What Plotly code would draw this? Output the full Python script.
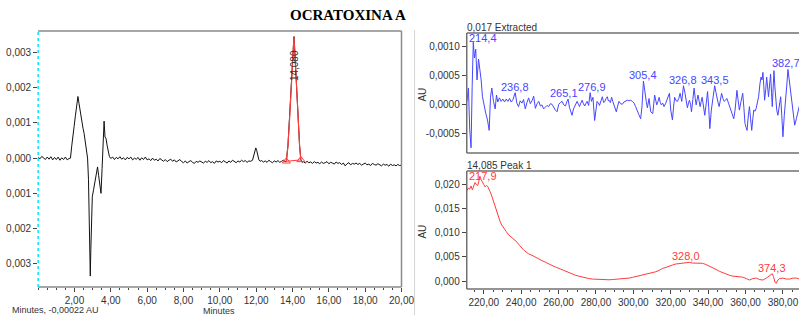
import plotly.graph_objects as go

# ---------------- DATA ----------------
# Chromatogram (minutes, mAU)
chrom_time = [
    0.0, 0.1, 0.2, 0.3, 0.4, 0.5, 0.6, 0.7, 0.8, 0.9, 1.0, 1.1, 1.2, 1.3, 1.4, 1.5, 1.6, 1.7,
    1.78, 1.85, 1.92, 1.98, 2.05, 2.12, 2.19, 2.25, 2.32, 2.40, 2.47, 2.53, 2.60, 2.66, 2.72,
    2.77, 2.81, 2.84, 2.87, 2.90, 2.93, 2.98, 3.05, 3.12, 3.20, 3.27, 3.33, 3.40, 3.46, 3.52,
    3.58, 3.63, 3.68, 3.74, 3.80, 3.86, 3.92, 3.98,
    4.0, 4.1, 4.2, 4.3, 4.4, 4.5, 4.6, 4.7, 4.8, 4.9,
    5.0, 5.1, 5.2, 5.3, 5.4, 5.5, 5.6, 5.7, 5.8, 5.9,
    6.0, 6.1, 6.2, 6.3, 6.4, 6.5, 6.6, 6.7, 6.8, 6.9,
    7.0, 7.1, 7.2, 7.3, 7.4, 7.5, 7.6, 7.7, 7.8, 7.9,
    8.0, 8.1, 8.2, 8.3, 8.4, 8.5, 8.6, 8.7, 8.8, 8.9,
    9.0, 9.1, 9.2, 9.3, 9.4, 9.5, 9.6, 9.7, 9.8, 9.9,
    10.0, 10.1, 10.2, 10.3, 10.4, 10.5, 10.6, 10.7, 10.8, 10.9,
    11.0, 11.1, 11.2, 11.3, 11.4, 11.5, 11.6, 11.7,
    11.8, 11.87, 11.93, 11.98, 12.03, 12.09, 12.15, 12.22,
    12.3, 12.4, 12.5, 12.6, 12.7, 12.8, 12.9, 13.0, 13.1, 13.2, 13.3, 13.4, 13.5, 13.6,
    13.66, 13.75, 13.84, 13.92, 13.99, 14.04, 14.08, 14.12, 14.18, 14.25, 14.32, 14.39, 14.46, 14.53,
    14.6, 14.7, 14.8, 14.9, 15.0, 15.1, 15.2, 15.3, 15.4, 15.5,
    15.6, 15.7, 15.8, 15.9, 16.0, 16.1, 16.2, 16.3, 16.4, 16.5,
    16.6, 16.7, 16.8, 16.9, 17.0, 17.1, 17.2, 17.3, 17.4, 17.5,
    17.6, 17.7, 17.8, 17.9, 18.0, 18.1, 18.2, 18.3, 18.4, 18.5,
    18.6, 18.7, 18.8, 18.9, 19.0, 19.1, 19.2, 19.3, 19.4, 19.5,
    19.6, 19.7, 19.8, 19.9, 20.0,
]
chrom_mau = [
    0.03, -0.02, 0.05, 0.01, -0.04, 0.03, -0.03, 0.04, -0.05, 0.02, -0.04, 0.03, -0.06, 0.01, -0.04, 0.03, -0.05, -0.01,
    0.0, 0.35, 0.75, 0.9, 1.2, 1.5, 1.75, 1.55, 1.3, 1.1, 0.85, 0.7, 0.45, 0.15, 0.0,
    -0.6, -1.4, -2.2, -3.35, -2.6, -1.6, -1.1, -0.9, -0.65, -0.45, -0.25, -0.5, -0.85, -1.0, -0.3,
    0.4, 1.05, 0.6, 0.55, 0.35, 0.15, 0.05, 0.0,
    -0.01, 0.03, -0.04, 0.02, -0.02, 0.04, -0.03, 0.01, -0.05, 0.02,
    -0.02, 0.03, -0.05, 0.00, -0.03, 0.02, -0.06, 0.01, -0.04, 0.03,
    -0.05, -0.02, -0.07, 0.00, -0.06, -0.03, -0.08, -0.01, -0.05, -0.09,
    -0.04, -0.10, -0.06, -0.03, -0.09, -0.05, -0.11, -0.07, -0.04, -0.10,
    -0.13, -0.08, -0.14, -0.10, -0.07, -0.12, -0.15, -0.09, -0.12, -0.08,
    -0.11, -0.14, -0.09, -0.12, -0.07, -0.13, -0.10, -0.15, -0.08, -0.11,
    -0.09, -0.13, -0.07, -0.11, -0.14, -0.08, -0.12, -0.06, -0.10, -0.13,
    -0.08, -0.11, -0.06, -0.10, -0.07, -0.12, -0.08, -0.09,
    -0.06, 0.08, 0.22, 0.29, 0.22, 0.06, -0.05, -0.09,
    -0.07, -0.11, -0.08, -0.12, -0.06, -0.10, -0.13, -0.08, -0.11, -0.07, -0.12, -0.09, -0.06, -0.10,
    -0.09, 0.35, 1.1, 1.9, 2.6, 3.1, 3.45, 3.1, 2.4, 1.6, 0.9, 0.35, -0.05, -0.12,
    -0.10, -0.14, -0.09, -0.13, -0.11, -0.15, -0.10, -0.14, -0.12, -0.16,
    -0.11, -0.15, -0.13, -0.10, -0.16, -0.12, -0.14, -0.17, -0.11, -0.15,
    -0.13, -0.18, -0.14, -0.22, -0.16, -0.13, -0.19, -0.15, -0.17, -0.14,
    -0.18, -0.15, -0.20, -0.16, -0.14, -0.19, -0.17, -0.21, -0.15, -0.18,
    -0.20, -0.16, -0.19, -0.22, -0.17, -0.20, -0.18, -0.23, -0.17, -0.21,
    -0.19, -0.22, -0.18, -0.21, -0.20,
]
peak_start_min = 13.66
peak_end_min = 14.46
peak_retention_label = "14,080"

chrom_xticks = [2, 4, 6, 8, 10, 12, 14, 16, 18, 20]
chrom_xticktext = ["2,00", "4,00", "6,00", "8,00", "10,00", "12,00", "14,00", "16,00", "18,00", "20,00"]
chrom_yticks = [0.003, 0.002, 0.001, 0.0, -0.001, -0.002, -0.003]
chrom_yticktext = ["0,003", "0,002", "0,001", "0,000", "0,001", "0,002", "0,003"]

# Extracted spectrum (nm, mAU)
ext_nm = [
    211.0, 211.8, 212.5, 213.2, 213.8, 214.4, 215.0, 215.7, 216.4, 217.2, 217.9, 218.6, 219.3, 220.2,
    221.1, 222.0, 222.9, 223.6, 224.3, 225.2, 226.1, 226.8, 227.5, 228.4, 229.3, 230.2, 231.1, 232.0,
    232.9, 233.8, 234.7, 235.6, 236.8, 237.7, 238.6, 239.5, 240.4, 241.3, 242.2, 243.1, 244.0, 244.9,
    245.8, 246.7, 247.6, 248.5, 249.4, 250.3, 251.1, 252.0, 252.9, 253.8, 254.7, 255.6, 256.5, 257.4,
    258.3, 259.2, 260.1, 261.0, 261.9, 262.8, 263.7, 264.4, 265.1, 265.8, 266.4, 267.2, 268.0, 268.7,
    269.4, 269.9, 270.6, 271.2, 271.9, 272.6, 273.3, 274.0, 274.7, 275.3, 276.1, 276.9, 277.6, 278.4,
    279.3, 280.0, 280.6, 281.3, 281.9, 282.7, 283.4, 284.1, 284.8, 285.4, 286.1, 286.6, 287.0, 287.7,
    288.4, 289.0, 289.6, 290.3, 290.9, 291.6, 292.3, 293.2, 294.1, 295.0, 295.9, 296.8, 297.7, 298.6,
    299.5, 300.4, 301.2, 302.1, 303.0, 303.9, 304.6, 305.4, 306.2, 306.9, 307.5, 308.4, 309.3, 310.4,
    311.4, 312.5, 313.2, 313.8, 314.4, 315.0, 315.7, 316.4, 317.2, 317.9, 318.6, 319.3, 320.0, 320.9,
    321.5, 322.1, 322.9, 323.6, 324.3, 325.0, 325.9, 326.8, 327.7, 328.3, 328.9, 329.5, 330.0, 330.6,
    331.1, 331.8, 332.5, 333.1, 333.6, 334.1, 334.6, 335.2, 335.7, 336.3, 336.8, 337.5, 338.2, 339.0,
    339.7, 340.3, 340.9, 341.7, 342.4, 343.0, 343.5, 344.2, 344.7, 345.3, 345.9, 346.6, 347.2, 347.9,
    348.6, 349.3, 350.0, 350.9, 351.8, 352.8, 353.7, 354.4, 355.4, 356.0, 356.7, 357.6, 358.5, 359.1,
    359.7, 360.3, 360.8, 361.5, 362.1, 362.7, 363.3, 363.9, 364.4, 365.1, 365.7, 366.4, 367.0, 367.7,
    368.3, 368.8, 369.3, 369.8, 370.2, 370.8, 371.3, 371.8, 372.3, 372.9, 373.4, 373.9, 374.3, 374.8,
    375.2, 375.7, 376.1, 376.7, 377.3, 378.0, 378.8, 379.4, 380.0, 380.7, 381.3, 382.0, 382.7, 383.3,
    383.9, 384.9, 385.6, 386.3, 387.2, 388.1, 389.5, 390.2,
]
ext_mau = [
    0.05, 0.28, -0.44, -0.75, 0.30, 1.07, 0.80, 0.95, 0.42, 0.78, 0.60, 0.42, 0.13, -0.04,
    -0.16, -0.27, -0.45, 0.12, 0.28, 0.05, -0.08, 0.16, 0.04, 0.11, 0.05, 0.09, 0.04, 0.09,
    0.05, 0.10, 0.04, 0.08, 0.20, 0.02, -0.04, 0.06, 0.02, 0.08, -0.08, 0.03, 0.11, 0.01,
    0.06, 0.14, -0.07, 0.01, 0.05, -0.03, -0.01, -0.08, -0.05, -0.02, -0.04, 0.01, 0.00, -0.06,
    -0.10, -0.13, 0.00, 0.03, 0.05, -0.01, -0.03, 0.04, 0.09, -0.05, -0.12, -0.19, -0.08, -0.02,
    0.03, 0.05, 0.00, -0.04, 0.02, 0.07, 0.01, -0.03, 0.02, 0.05, -0.02, 0.20, 0.05, 0.12,
    -0.28, -0.05, 0.05, 0.02, -0.02, 0.06, 0.13, 0.03, 0.05, 0.10, 0.13, 0.06, 0.07, 0.03,
    0.12, 0.05, -0.02, -0.08, -0.13, -0.03, 0.05, 0.01, 0.00, 0.04, 0.06, 0.07, 0.06, 0.07,
    0.05, 0.02, -0.04, -0.10, -0.18, -0.25, -0.05, 0.40, 0.15, 0.05, -0.06, 0.10, -0.13, -0.16,
    0.16, -0.01, 0.05, 0.12, 0.03, -0.01, 0.02, -0.04, 0.01, 0.07, 0.12, 0.19, -0.10, -0.27,
    -0.05, 0.12, 0.06, 0.05, 0.10, 0.19, 0.05, 0.32, 0.18, 0.02, -0.06, 0.02, 0.07, 0.00,
    -0.13, 0.08, 0.28, 0.10, -0.01, 0.08, 0.16, 0.05, -0.04, 0.05, 0.12, -0.03, -0.19, 0.02,
    0.22, -0.05, -0.42, -0.10, 0.07, 0.18, 0.32, 0.20, 0.10, 0.03, -0.04, 0.08, 0.19, 0.10,
    0.05, 0.07, 0.10, 0.02, -0.06, -0.15, -0.25, -0.10, 0.24, 0.08, -0.10, 0.05, 0.19, -0.05,
    -0.33, -0.40, -0.45, -0.20, -0.04, -0.25, -0.45, -0.25, -0.10, -0.12, -0.07, 0.04, 0.13, 0.35,
    0.47, 0.42, 0.55, 0.30, 0.07, 0.25, 0.47, 0.30, 0.13, 0.35, 0.52, 0.20, -0.04, 0.30,
    0.58, 0.30, 0.05, -0.10, -0.19, -0.02, 0.13, -0.20, -0.56, -0.20, 0.13, 0.30, 0.60, 0.45,
    0.20, -0.04, -0.20, -0.36, -0.25, -0.10, 0.07, 0.30,
]
ext_peak_labels = [214.4, 236.8, 265.1, 276.9, 305.4, 326.8, 343.5, 382.7]
ext_yticks = [0.0010, 0.0005, 0.0, -0.0005]
ext_yticktext = ["0,0010", "0,0005", "0,0000", "-0,0005"]

# Peak 1 spectrum (nm, mAU)
pk_nm = [
    211.0, 211.7, 212.4, 213.2, 213.9, 214.6, 215.3, 216.0, 216.8, 217.4, 217.9, 218.6, 219.3, 220.0,
    220.7, 221.4, 222.1, 222.8, 223.4, 224.3, 225.2, 226.1, 227.0, 227.9, 228.8, 229.7, 230.6, 232.0,
    233.3, 234.6, 236.0, 237.3, 238.6, 240.0, 241.3, 242.6, 244.0, 245.8, 247.6, 249.4, 251.1, 252.9,
    254.7, 256.5, 258.3, 260.1, 261.9, 263.7, 265.5, 267.3, 269.0, 270.8, 272.6, 274.4, 276.2, 278.0,
    279.8, 281.6, 283.4, 285.2, 287.0, 288.8, 290.5, 292.3, 294.1, 295.9, 297.7, 299.5, 301.2, 303.0,
    304.8, 306.6, 308.4, 310.2, 312.0, 313.8, 315.6, 317.4, 319.2, 321.0, 322.7, 324.5, 326.3, 328.0,
    329.9, 331.6, 333.4, 335.2, 337.0, 338.8, 340.6, 342.4, 344.2, 346.0, 347.8, 349.5, 351.3, 353.1,
    354.9, 356.7, 358.5, 360.3, 362.1, 363.9, 365.7, 367.5, 369.3, 371.1, 372.9, 374.3, 375.0, 375.7,
    376.4, 377.3, 378.2, 380.0, 381.8, 383.6, 385.4, 387.2, 389.0, 390.2,
]
pk_mau = [
    18.6, 19.2, 18.9, 19.6, 18.8, 19.8, 20.3, 19.9, 19.7, 20.6, 21.6, 20.9, 20.5, 19.9,
    19.4, 19.7, 19.5, 19.0, 18.4, 17.5, 16.4, 15.4, 14.3, 13.2, 12.2, 11.5, 10.9, 10.2,
    9.5, 9.1, 8.7, 8.2, 7.6, 6.9, 6.4, 6.0, 5.6, 5.3, 4.9, 4.6, 4.2, 3.9,
    3.5, 3.2, 2.9, 2.6, 2.4, 2.1, 1.8, 1.5, 1.2, 1.0, 0.8, 0.6, 0.5, 0.4,
    0.35, 0.3, 0.3, 0.2, 0.25, 0.3, 0.35, 0.3, 0.35, 0.5, 0.6, 0.75, 0.9, 1.0,
    1.2, 1.3, 1.6, 1.7, 1.9, 2.2, 2.6, 2.8, 3.1, 3.3, 3.5, 3.6, 3.8, 3.9,
    3.85, 3.7, 3.7, 3.6, 3.65, 3.4, 3.1, 2.8, 2.4, 2.0, 1.7, 1.4, 1.2, 1.0,
    0.9, 0.85, 0.8, 0.5, 0.2, 0.5, 0.6, 0.3, 0.2, 0.6, 1.2, 1.5, 0.9, -0.2,
    -0.5, 0.2, 0.5, 0.6, 0.4, 0.4, 0.6, 0.6, 0.4, 0.4,
]
pk_peak_labels = [217.9, 328.0, 374.3]
pk_xticks = [220, 240, 260, 280, 300, 320, 340, 360, 380]
pk_xticktext = ["220,00", "240,00", "260,00", "280,00", "300,00", "320,00", "340,00", "360,00", "380,00"]
pk_yticks = [0.020, 0.015, 0.010, 0.005, 0.0]
pk_yticktext = ["0,020", "0,015", "0,010", "0,005", "0,000"]

# ---------------- FIGURE ----------------
W, H = 799, 315          # reference picture size (layout designed in these pixels)
FIG_W = 815              # rendered width (page is scaled to the 799 px window)
def px(x):
    return x / W
def py(y):
    return (H - y) / H

FONT = "Arial, Liberation Sans, sans-serif"
TICKC = "#333333"
BLUE = "#4646ff"
RED = "#ff3c3c"

chrom_au = [v / 1000 for v in chrom_mau]
ext_au = [v / 1000 for v in ext_mau]
pk_au = [v / 1000 for v in pk_mau]

fig = go.Figure()

fig.add_trace(go.Scatter(x=chrom_time, y=chrom_au, mode="lines",
                         line=dict(color="#111111", width=1), xaxis="x", yaxis="y",
                         hoverinfo="skip"))
pk_t = [t for t in chrom_time if peak_start_min <= t <= peak_end_min]
pk_v = [v for t, v in zip(chrom_time, chrom_au) if peak_start_min <= t <= peak_end_min]
fig.add_trace(go.Scatter(x=pk_t, y=pk_v, mode="lines",
                         line=dict(color=RED, width=1.2), xaxis="x", yaxis="y"))
fig.add_trace(go.Scatter(x=[pk_t[0], pk_t[-1]], y=[pk_v[0], pk_v[-1]], mode="lines+markers",
                         line=dict(color=RED, width=1),
                         marker=dict(symbol="triangle-up-open", size=7, color=RED,
                                     line=dict(color=RED, width=1)),
                         xaxis="x", yaxis="y"))

fig.add_trace(go.Scatter(x=ext_nm, y=ext_au, mode="lines",
                         line=dict(color=BLUE, width=1), xaxis="x2", yaxis="y2"))
fig.add_trace(go.Scatter(x=pk_nm, y=pk_au, mode="lines",
                         line=dict(color=RED, width=1), xaxis="x3", yaxis="y3"))

tickfont = dict(family=FONT, size=10, color=TICKC)
common_ax = dict(showgrid=False, zeroline=False, showline=False, ticks="outside",
                 ticklen=4, tickcolor="#444444", tickfont=tickfont, fixedrange=True)

NM_RANGE = [210.9, 390.2]
SPEC_L, SPEC_R = 465, 799

fig.update_layout(
    width=FIG_W, height=H, autosize=False, margin=dict(l=0, r=0, t=0, b=0),
    paper_bgcolor="white", plot_bgcolor="white", showlegend=False,
    xaxis=dict(common_ax, domain=[px(38), px(400)], range=[0, 20], anchor="y",
               tickmode="array", tickvals=chrom_xticks, ticktext=chrom_xticktext,
               minor=dict(tickmode="linear", tick0=0, dtick=0.5, ticks="outside",
                          ticklen=2, tickcolor="#444444")),
    yaxis=dict(common_ax, domain=[py(287), py(31)], range=[-0.00366, 0.00361], anchor="x",
               tickmode="array", tickvals=chrom_yticks, ticktext=chrom_yticktext),
    xaxis2=dict(common_ax, domain=[px(SPEC_L), 1.0], range=NM_RANGE, anchor="y2",
                showticklabels=False, ticks=""),
    yaxis2=dict(common_ax, domain=[py(153), py(33)], range=[-0.00084, 0.001229], anchor="x2",
                tickmode="array", tickvals=ext_yticks, ticktext=ext_yticktext),
    xaxis3=dict(common_ax, domain=[px(SPEC_L), 1.0], range=NM_RANGE, anchor="y3",
                tickmode="array", tickvals=pk_xticks, ticktext=pk_xticktext,
                minor=dict(tickmode="linear", tick0=0, dtick=5, ticks="outside",
                           ticklen=2, tickcolor="#444444")),
    yaxis3=dict(common_ax, domain=[py(289), py(171)], range=[-0.00165, 0.02268], anchor="x3",
                tickmode="array", tickvals=pk_yticks, ticktext=pk_yticktext),
)

shapes = []
# left panel frame (top, right, bottom) and cyan dotted left edge
for (x0, y0, x1, y1) in [(0, 1, 1, 1), (1, 0, 1, 1), (0, 0, 1, 0)]:
    shapes.append(dict(type="line", xref="x domain", yref="y domain", x0=x0, y0=y0, x1=x1, y1=y1,
                       line=dict(color="#8a8a8a", width=1.5)))
shapes.append(dict(type="line", xref="x domain", yref="y domain", x0=0, y0=0, x1=0, y1=1,
                   line=dict(color="#00e5ff", width=1.5, dash="dot")))
# right panel frames
for xr, yr in [("x2 domain", "y2 domain"), ("x3 domain", "y3 domain")]:
    for (x0, y0, x1, y1) in [(0, 1, 1, 1), (0, 0, 1, 0), (0, 0, 0, 1)]:
        shapes.append(dict(type="line", xref=xr, yref=yr, x0=x0, y0=y0, x1=x1, y1=y1,
                           line=dict(color="#707070", width=1.5)))
# separator
shapes.append(dict(type="line", xref="paper", yref="paper", x0=px(413), x1=px(413),
                   y0=py(30), y1=0, line=dict(color="#d6d6d6", width=1)))
fig.update_layout(shapes=shapes)

ann = []
small = dict(family=FONT, size=10, color=TICKC)
ann.append(dict(text="<b>OCRATOXINA A</b>", x=px(347), y=py(15), xref="paper", yref="paper",
                showarrow=False, xanchor="center", yanchor="middle",
                font=dict(family="Liberation Serif, Times New Roman, serif", size=15, color="black")))
ann.append(dict(text="0,017 Extracted", x=px(463), y=py(27), xref="paper", yref="paper",
                showarrow=False, xanchor="left", yanchor="middle", font=small))
ann.append(dict(text="14,085 Peak 1", x=px(463), y=py(165), xref="paper", yref="paper",
                showarrow=False, xanchor="left", yanchor="middle", font=small))
for yy in [95, 232]:
    ann.append(dict(text="AU", x=px(420), y=py(yy), xref="paper", yref="paper", textangle=-90,
                    showarrow=False, xanchor="center", yanchor="middle", font=small))
ann.append(dict(text="Minutes", x=px(218), y=py(310.5), xref="paper", yref="paper",
                showarrow=False, xanchor="center", yanchor="middle",
                font=dict(family=FONT, size=9, color=TICKC)))
ann.append(dict(text="Minutes, -0,00022 AU", x=px(10), y=py(310), xref="paper", yref="paper",
                showarrow=False, xanchor="left", yanchor="middle",
                font=dict(family=FONT, size=9, color=TICKC)))
# retention time label
apex_i = chrom_au.index(max(chrom_au))
ann.append(dict(text=peak_retention_label, x=chrom_time[apex_i], y=0.00264, xref="x", yref="y",
                textangle=-90, showarrow=False, xanchor="center", yanchor="middle",
                font=dict(family=FONT, size=10, color="#333333")))

# spectrum peak labels, kept inside the plot area
nm_per_px = (NM_RANGE[1] - NM_RANGE[0]) / (SPEC_R - SPEC_L)
half_label_nm = 14 * nm_per_px
label_nudge = {265.1: -4, 276.9: 2}

def peak_labels(wls, nms, vals, cap, xref, yref, color):
    out = []
    for wl in wls:
        v = vals[nms.index(wl)]
        xa = "center"
        xx = wl
        if wl - half_label_nm < NM_RANGE[0]:
            xa, xx = "left", NM_RANGE[0]
        elif wl + half_label_nm > NM_RANGE[1]:
            xa, xx = "right", NM_RANGE[1]
        out.append(dict(text=f"{wl:.1f}".replace(".", ","), x=xx, y=min(v, cap),
                        xref=xref, yref=yref, showarrow=False, xanchor=xa, yanchor="bottom",
                        xshift=label_nudge.get(wl, 0), yshift=-2,
                        font=dict(family=FONT, size=11, color=color)))
    return out

ext_cap = 0.001229 - 11 * (0.001229 + 0.00084) / 120
pk_cap = 0.02268 - 11 * (0.02268 + 0.00165) / 118
ann += peak_labels(ext_peak_labels, ext_nm, ext_au, ext_cap, "x2", "y2", BLUE)
ann += peak_labels(pk_peak_labels, pk_nm, pk_au, pk_cap, "x3", "y3", RED)
fig.update_layout(annotations=ann)

post = (
    "document.documentElement.style.overflow='hidden';"
    "document.body.style.overflow='hidden';"
    "document.body.style.margin='0px';document.body.style.padding='0px';"
)
fig.write_html("out.html",
               config={"displayModeBar": False, "responsive": False, "staticPlot": True},
               post_script=post)
